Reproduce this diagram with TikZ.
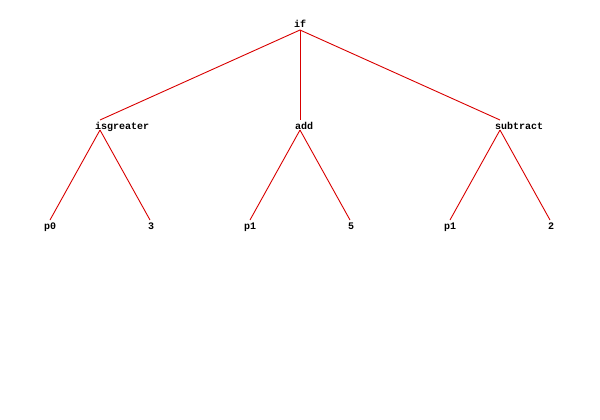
\documentclass[tikz,border=0pt]{standalone}
\usepackage{fontspec}
\setmainfont{Liberation Mono}
\begin{document}
\begin{tikzpicture}[x=1pt,y=-1pt,
  edge/.style={draw=red!85!black, line width=0.9pt},
  lbl/.style={anchor=base west, inner sep=0pt, font=\fontsize{10}{12}\selectfont\bfseries}]
\useasboundingbox[fill=white] (0,0) rectangle (600,420);
% junction points of the tree
\coordinate (if)  at (300,30);
\coordinate (isg) at (100,130);
\coordinate (add) at (300,130);
\coordinate (sub) at (500,130);
\coordinate (p0)  at (50,230);
\coordinate (c3)  at (150,230);
\coordinate (p1a) at (250,230);
\coordinate (c5)  at (350,230);
\coordinate (p1b) at (450,230);
\coordinate (c2)  at (550,230);
% labels
\node[lbl] (tif)  at ([shift={(-6,-2)}]if)  {if};
\node[lbl] (tisg) at ([shift={(-5,-1)}]isg) {isgreater};
\node[lbl] (tadd) at ([shift={(-5,-1)}]add) {add};
\node[lbl] (tsub) at ([shift={(-5,-1)}]sub) {subtract};
\node[lbl] (tp0)  at ([shift={(-6,-1)}]p0)  {p0};
\node[lbl] (tc3)  at ([shift={(-2,-1)}]c3)  {3};
\node[lbl] (tp1a) at ([shift={(-6,-1)}]p1a) {p1};
\node[lbl] (tc5)  at ([shift={(-2,-1)}]c5)  {5};
\node[lbl] (tp1b) at ([shift={(-6,-1)}]p1b) {p1};
\node[lbl] (tc2)  at ([shift={(-2,-1)}]c2)  {2};
% connectors: each edge ends 10 units above the child's junction
\foreach \p/\c in {if/isg, if/add, if/sub, isg/p0, isg/c3, add/p1a, add/c5, sub/p1b, sub/c2}
  \draw[edge] (\p) -- ([yshift=10]\c);
\end{tikzpicture}
\end{document}
